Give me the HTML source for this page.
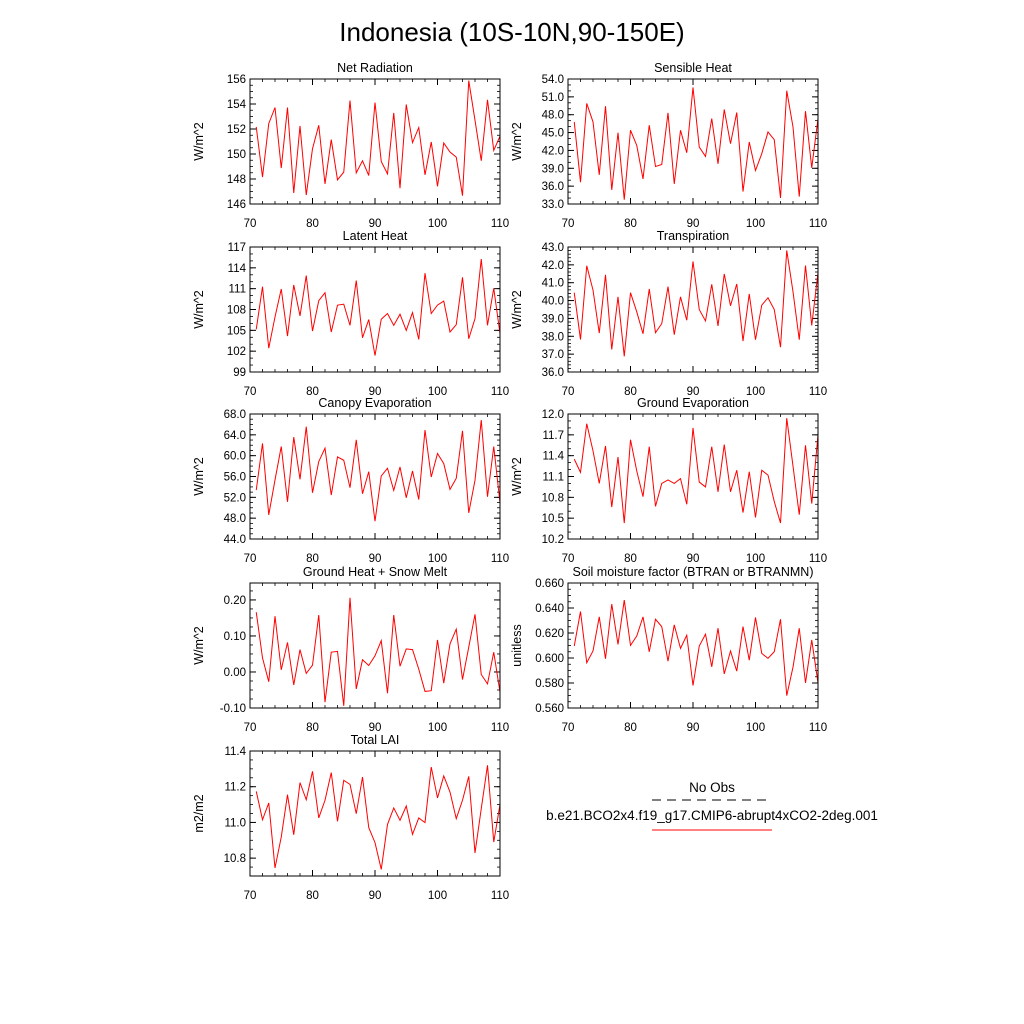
<!DOCTYPE html>
<html><head><meta charset="utf-8"><style>
body{margin:0;background:#fff;}
svg{display:block;font-family:"Liberation Sans",sans-serif;}
</style></head><body>
<svg id="chart" width="1024" height="1024" xmlns="http://www.w3.org/2000/svg">
<rect width="1024" height="1024" fill="#fff"/>
<text x="512" y="41" font-size="26" text-anchor="middle">Indonesia (10S-10N,90-150E)</text>
<g>
<text x="712" y="792" font-size="13.5" text-anchor="middle">No Obs</text>
<line x1="652" y1="800" x2="772" y2="800" stroke="#000" stroke-width="1" stroke-dasharray="9,6"/>
<text x="712" y="820" font-size="13.5" text-anchor="middle">b.e21.BCO2x4.f19_g17.CMIP6-abrupt4xCO2-2deg.001</text>
<line x1="652" y1="830" x2="772" y2="830" stroke="#f00" stroke-width="1"/>
</g>
</svg>
<script>
const years = [];
for (let y = 71; y <= 110; y++) years.push(y);
const xTicks = [70, 80, 90, 100, 110];
const netRad = [152.17,148.15,152.43,153.72,148.87,153.72,146.88,152.25,146.72,150.42,152.30,147.61,151.15,147.93,148.55,154.28,148.49,149.46,148.28,154.12,149.40,148.41,153.29,147.26,153.96,150.91,152.11,148.33,150.96,147.42,150.88,150.16,149.75,146.67,155.87,152.70,149.46,154.34,150.29,151.42];
const sensible = [46.79,36.66,49.89,46.79,37.90,49.44,35.37,44.99,33.73,45.39,42.85,37.22,46.23,39.31,39.64,48.31,36.38,45.39,41.61,52.59,42.57,40.99,47.36,39.76,48.88,43.13,48.37,35.08,43.42,38.63,41.45,45.10,43.81,34.01,52.03,45.95,34.24,48.60,39.08,47.36];
const latent = [105.14,111.29,102.43,106.93,110.95,104.17,111.53,107.08,112.89,104.90,109.26,110.42,104.76,108.63,108.77,105.72,112.16,103.93,106.55,101.37,106.60,107.42,105.72,107.32,104.99,107.56,103.69,113.23,107.42,108.63,109.21,104.76,105.82,112.64,103.79,106.69,115.26,105.72,111.05,104.51];
const transp = [40.44,37.82,41.95,40.59,38.18,41.44,37.26,40.21,36.88,40.44,39.37,38.14,40.65,38.20,38.71,40.78,38.09,40.21,38.90,42.19,39.50,38.86,40.91,38.58,41.49,39.71,40.93,37.73,40.37,37.81,39.74,40.16,39.50,37.39,42.81,40.50,37.81,41.96,38.61,41.57];
const canopy = [53.39,62.34,48.63,55.33,61.76,51.14,63.56,55.45,65.56,52.88,58.86,61.44,52.43,59.76,59.12,53.85,63.05,52.69,56.93,47.41,56.10,57.58,53.33,57.83,51.92,57.06,51.59,64.91,55.90,60.41,58.48,53.52,55.65,64.78,49.02,55.26,66.84,52.11,61.76,50.95];
const groundEvap = [11.35,11.16,11.86,11.47,11.00,11.54,10.66,11.38,10.43,11.63,11.18,10.81,11.53,10.67,11.00,11.05,11.00,11.07,10.70,11.80,11.02,10.95,11.53,10.88,11.56,10.88,11.19,10.58,11.17,10.51,11.19,11.12,10.74,10.43,11.94,11.25,10.55,11.55,10.71,11.70];
const groundHeat = [0.166,0.039,-0.027,0.155,0.006,0.082,-0.036,0.062,-0.004,0.019,0.158,-0.084,0.055,0.057,-0.094,0.206,-0.047,0.034,0.018,0.045,0.087,-0.059,0.158,0.016,0.064,0.062,0.008,-0.054,-0.052,0.089,-0.031,0.078,0.119,-0.021,0.069,0.160,-0.007,-0.033,0.055,-0.056];
const soil = [0.6096,0.6372,0.5962,0.6056,0.6329,0.5994,0.6431,0.6109,0.6463,0.6101,0.6176,0.6329,0.6050,0.6310,0.6251,0.5975,0.6265,0.6077,0.6182,0.5780,0.6096,0.6190,0.5930,0.6238,0.5873,0.6056,0.5895,0.6251,0.5983,0.6324,0.6037,0.5997,0.6050,0.6310,0.5699,0.5927,0.6238,0.5801,0.6144,0.5801];
const lai = [11.174,11.015,11.109,10.745,10.918,11.155,10.931,11.223,11.127,11.286,11.025,11.124,11.279,11.006,11.236,11.213,11.049,11.254,10.971,10.887,10.737,10.989,11.081,11.012,11.092,10.933,11.025,10.999,11.310,11.137,11.260,11.170,11.021,11.124,11.258,10.829,11.077,11.320,10.890,11.101];
const panels = [
 {name:'net-radiation',title:'Net Radiation',unit:'W/m^2',data:netRad,min:146,max:156,step:2,minor:0.5,dec:0,x:250,y:79},
 {name:'sensible-heat',title:'Sensible Heat',unit:'W/m^2',data:sensible,min:33,max:54,step:3,minor:1,dec:1,x:568,y:79},
 {name:'latent-heat',title:'Latent Heat',unit:'W/m^2',data:latent,min:99,max:117,step:3,minor:1,dec:0,x:250,y:247},
 {name:'transpiration',title:'Transpiration',unit:'W/m^2',data:transp,min:36,max:43,step:1,minor:0.2,dec:1,x:568,y:247},
 {name:'canopy-evaporation',title:'Canopy Evaporation',unit:'W/m^2',data:canopy,min:44,max:68,step:4,minor:1,dec:1,x:250,y:414},
 {name:'ground-evaporation',title:'Ground Evaporation',unit:'W/m^2',data:groundEvap,min:10.2,max:12.0,step:0.3,minor:0.1,dec:1,x:568,y:414},
 {name:'ground-heat',title:'Ground Heat + Snow Melt',unit:'W/m^2',data:groundHeat,min:-0.1,max:0.247,step:0.1,minor:0.025,dec:2,x:250,y:583,tick0:-0.1,tickEnd:0.2},
 {name:'soil-moisture',title:'Soil moisture factor (BTRAN or BTRANMN)',unit:'unitless',data:soil,min:0.56,max:0.66,step:0.02,minor:0.005,dec:3,x:568,y:583},
 {name:'total-lai',title:'Total LAI',unit:'m2/m2',data:lai,min:10.7,max:11.4,step:0.2,minor:0.05,dec:1,x:250,y:751,tick0:10.8,tickEnd:11.4}
];
const W = 250, H = 125;
const svg = document.getElementById('chart');
const NS = 'http://www.w3.org/2000/svg';
function mk(tag, attrs, parent) {
  const e = document.createElementNS(NS, tag);
  for (const k in attrs) e.setAttribute(k, attrs[k]);
  parent.appendChild(e);
  return e;
}
panels.forEach(p => {
  const g = mk('g', {}, svg);
  
  
  const xs = v => p.x + (v - 70) / 40 * W;
  const ys = v => p.y + H - (v - p.min) / (p.max - p.min) * H;
  const t = mk('text', {x: p.x + W / 2, y: p.y - 7, 'font-size': 12.5, 'text-anchor': 'middle'}, g);
  
  
  t.textContent = p.title;
  const yt = mk('text', {x: 0, y: 0, 'font-size': 12.5, 'text-anchor': 'middle', transform: `translate(${p.x - 47},${p.y + H / 2}) rotate(-90)`}, g);
  
  
  yt.textContent = p.unit;
  const eps = 1e-9;
  for (let v = Math.ceil((p.min - eps) / p.minor) * p.minor; v <= p.max + eps; v += p.minor) {
    const yy = ys(v);
    const m1 = mk('line', {x1: p.x, x2: p.x + 3, y1: yy, y2: yy, stroke: '#000', 'stroke-width': 0.8}, g);
    
    
    const m2 = mk('line', {x1: p.x + W, x2: p.x + W - 3, y1: yy, y2: yy, stroke: '#000', 'stroke-width': 0.8}, g);
    
    
  }
  const t0 = p.tick0 !== undefined ? p.tick0 : p.min;
  const tE = p.tickEnd !== undefined ? p.tickEnd : p.max;
  const n = Math.round((tE - t0) / p.step);
  for (let i = 0; i <= n; i++) {
    const v = t0 + i * p.step;
    const yy = ys(v);
    const l1 = mk('line', {x1: p.x, x2: p.x + 6, y1: yy, y2: yy, stroke: '#000', 'stroke-width': 1}, g);
    
    
    const l2 = mk('line', {x1: p.x + W, x2: p.x + W - 6, y1: yy, y2: yy, stroke: '#000', 'stroke-width': 1}, g);
    
    
    const lab = mk('text', {x: p.x - 4, y: yy + 4, 'font-size': 11.5, 'text-anchor': 'end'}, g);
    
    
    lab.textContent = (Math.abs(v) < 1e-9 ? 0 : v).toFixed(p.dec);
  }
  for (let v = 72; v < 110; v += 2) {
    if (v % 10 === 0) continue;
    const xx = xs(v);
    const a = mk('line', {x1: xx, x2: xx, y1: p.y + H, y2: p.y + H - 3, stroke: '#000', 'stroke-width': 0.8}, g);
    
    
    const b = mk('line', {x1: xx, x2: xx, y1: p.y, y2: p.y + 3, stroke: '#000', 'stroke-width': 0.8}, g);
    
    
  }
  xTicks.forEach(v => {
    const xx = xs(v);
    const a = mk('line', {x1: xx, x2: xx, y1: p.y + H, y2: p.y + H - 6, stroke: '#000', 'stroke-width': 1}, g);
    
    
    const b = mk('line', {x1: xx, x2: xx, y1: p.y, y2: p.y + 6, stroke: '#000', 'stroke-width': 1}, g);
    
    
    const lab = mk('text', {x: xx, y: p.y + H + 23, 'font-size': 11.5, 'text-anchor': 'middle'}, g);
    
    
    lab.textContent = v;
  });
  const pts = p.data.map((v, i) => xs(years[i]).toFixed(2) + ',' + ys(v).toFixed(2)).join(' ');
  const line = mk('polyline', {points: pts, fill: 'none', stroke: '#f00', 'stroke-width': 1}, g);
  
  
  const fr = mk('rect', {x: p.x, y: p.y, width: W, height: H, fill: 'none', stroke: '#000', 'stroke-width': 1}, g);
  
  
});
</script>
</body></html>
